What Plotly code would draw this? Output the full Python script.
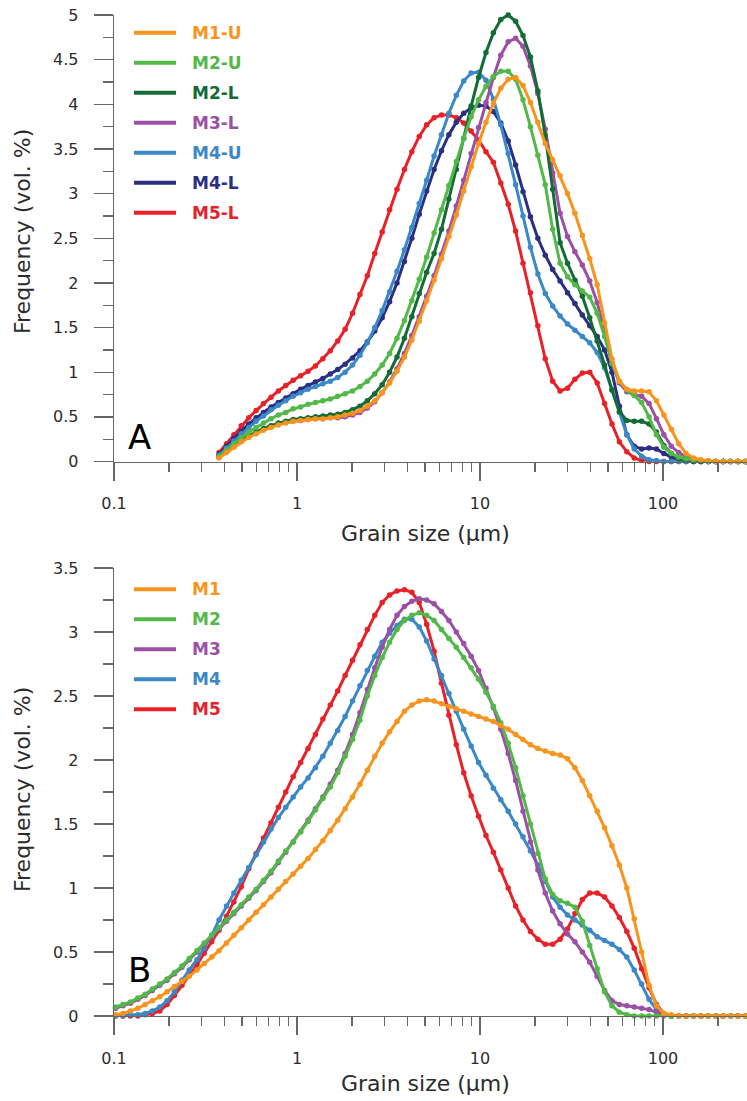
import plotly.graph_objects as go

# ---------------- data ----------------
# particle-size channels (µm)
CHANNELS = [0.102, 0.112, 0.123, 0.135, 0.148, 0.162, 0.178, 0.195, 0.214, 0.235,
            0.258, 0.284, 0.311, 0.342, 0.375, 0.412, 0.452, 0.496, 0.545, 0.598,
            0.656, 0.721, 0.791, 0.868, 0.953, 1.047, 1.149, 1.261, 1.385, 1.520,
            1.669, 1.832, 2.011, 2.208, 2.423, 2.660, 2.920, 3.206, 3.519, 3.863,
            4.241, 4.656, 5.111, 5.611, 6.159, 6.761, 7.422, 8.148, 8.944, 9.819,
            10.78, 11.83, 12.99, 14.26, 15.65, 17.18, 18.86, 20.71, 22.73, 24.95,
            27.39, 30.07, 33.01, 36.24, 39.78, 43.67, 47.94, 52.62, 57.77, 63.41,
            69.61, 76.42, 83.89, 92.09, 101.1, 111.0, 121.8, 133.7, 146.8, 161.2,
            176.9, 194.2, 213.2, 234.1, 256.9, 282.1, 309.6]
SIZES_B = CHANNELS
SIZES_A = CHANNELS[14:]

# Panel A (73 points each, from 0.375 µm)
M1_U = [0.04, 0.10, 0.16, 0.22, 0.27, 0.31, 0.35, 0.38, 0.41, 0.43,
        0.45, 0.46, 0.47, 0.48, 0.48, 0.49, 0.50, 0.52, 0.54, 0.57,
        0.62, 0.68, 0.77, 0.88, 1.01, 1.17, 1.36, 1.57, 1.80, 2.03,
        2.27, 2.52, 2.76, 3.03, 3.30, 3.56, 3.80, 4.01, 4.18, 4.28,
        4.30, 4.21, 4.02, 3.80, 3.56, 3.38, 3.20, 3.00, 2.78, 2.53,
        2.27, 1.98, 1.55, 1.15, 0.90, 0.81, 0.79, 0.79, 0.78, 0.68,
        0.52, 0.36, 0.20, 0.09, 0.04, 0.02, 0.01, 0, 0, 0,
        0, 0, 0]
M2_U = [0.06, 0.13, 0.20, 0.27, 0.33, 0.38, 0.43, 0.48, 0.52, 0.55,
        0.59, 0.61, 0.64, 0.66, 0.68, 0.70, 0.73, 0.76, 0.79, 0.84,
        0.90, 0.98, 1.08, 1.21, 1.38, 1.58, 1.80, 2.04, 2.29, 2.56,
        2.82, 3.09, 3.36, 3.62, 3.86, 4.05, 4.20, 4.31, 4.37, 4.37,
        4.28, 4.05, 3.75, 3.43, 3.10, 2.60, 2.22, 2.07, 1.98, 1.91,
        1.84, 1.66, 1.40, 1.10, 0.90, 0.80, 0.74, 0.66, 0.50, 0.30,
        0.16, 0.09, 0.05, 0.03, 0.02, 0.01, 0, 0, 0, 0,
        0, 0, 0]
M2_L = [0.05, 0.12, 0.18, 0.24, 0.29, 0.33, 0.37, 0.40, 0.43, 0.45,
        0.47, 0.48, 0.49, 0.50, 0.51, 0.52, 0.53, 0.55, 0.58, 0.62,
        0.68, 0.76, 0.86, 1.00, 1.17, 1.38, 1.62, 1.88, 2.12, 2.33,
        2.60, 2.94, 3.27, 3.62, 3.98, 4.30, 4.58, 4.80, 4.95, 5.00,
        4.93, 4.77, 4.53, 4.15, 3.65, 3.05, 2.45, 2.22, 2.03, 1.85,
        1.61, 1.35, 1.08, 0.80, 0.56, 0.46, 0.45, 0.45, 0.42, 0.33,
        0.18, 0.09, 0.03, 0.01, 0, 0, 0, 0, 0, 0,
        0, 0, 0]
M3_L = [0.05, 0.11, 0.17, 0.23, 0.28, 0.32, 0.36, 0.39, 0.42, 0.44,
        0.45, 0.46, 0.47, 0.48, 0.48, 0.49, 0.49, 0.50, 0.52, 0.55,
        0.60, 0.67, 0.77, 0.89, 1.04, 1.21, 1.41, 1.62, 1.85, 2.08,
        2.32, 2.58, 2.86, 3.15, 3.45, 3.74, 4.02, 4.30, 4.55, 4.70,
        4.74, 4.65, 4.43, 4.12, 3.72, 3.23, 2.78, 2.52, 2.35, 2.20,
        2.02, 1.78, 1.46, 1.10, 0.88, 0.78, 0.75, 0.73, 0.65, 0.48,
        0.30, 0.17, 0.10, 0.05, 0.02, 0.01, 0, 0, 0, 0,
        0, 0, 0]
M4_U = [0.07, 0.15, 0.23, 0.31, 0.38, 0.45, 0.51, 0.58, 0.63, 0.68,
        0.73, 0.77, 0.81, 0.84, 0.87, 0.90, 0.94, 1.00, 1.08, 1.19,
        1.33, 1.50, 1.69, 1.90, 2.13, 2.37, 2.62, 2.89, 3.15, 3.42,
        3.66, 3.90, 4.10, 4.26, 4.35, 4.36, 4.27, 4.06, 3.77, 3.45,
        3.10, 2.75, 2.40, 2.10, 1.88, 1.74, 1.63, 1.54, 1.47, 1.40,
        1.33, 1.22, 1.05, 0.80, 0.55, 0.30, 0.14, 0.06, 0.02, 0.01,
        0, 0, 0, 0, 0, 0, 0, 0, 0, 0,
        0, 0, 0]
M4_L = [0.08, 0.17, 0.26, 0.34, 0.42, 0.49, 0.55, 0.61, 0.66, 0.71,
        0.76, 0.81, 0.85, 0.89, 0.93, 0.98, 1.03, 1.09, 1.16, 1.24,
        1.34, 1.46, 1.61, 1.79, 2.00, 2.24, 2.50, 2.77, 3.03, 3.27,
        3.48, 3.66, 3.80, 3.90, 3.96, 3.99, 3.98, 3.92, 3.79, 3.59,
        3.32, 3.02, 2.74, 2.50, 2.31, 2.15, 2.02, 1.89, 1.77, 1.64,
        1.52, 1.40, 1.25, 1.00, 0.62, 0.30, 0.17, 0.14, 0.15, 0.14,
        0.09, 0.05, 0.02, 0, 0, 0, 0, 0, 0, 0,
        0, 0, 0]
M5_L = [0.10, 0.20, 0.30, 0.40, 0.49, 0.57, 0.65, 0.72, 0.79, 0.85,
        0.91, 0.96, 1.01, 1.07, 1.15, 1.24, 1.35, 1.48, 1.66, 1.87,
        2.08, 2.33, 2.57, 2.82, 3.05, 3.27, 3.47, 3.64, 3.77, 3.85,
        3.88, 3.88, 3.85, 3.79, 3.70, 3.60, 3.47, 3.35, 3.12, 2.88,
        2.58, 2.22, 1.89, 1.52, 1.15, 0.90, 0.79, 0.82, 0.92, 0.99,
        1.00, 0.88, 0.65, 0.42, 0.22, 0.11, 0.04, 0.01, 0, 0,
        0, 0, 0, 0, 0, 0, 0, 0, 0, 0,
        0, 0, 0]

# Panel B (87 points each, from 0.102 µm)
M1 = [0.01, 0.02, 0.04, 0.06, 0.09, 0.12, 0.15, 0.19, 0.23, 0.27,
      0.31, 0.36, 0.41, 0.46, 0.51, 0.57, 0.63, 0.69, 0.75, 0.81,
      0.87, 0.93, 0.99, 1.05, 1.11, 1.17, 1.23, 1.30, 1.37, 1.45,
      1.53, 1.62, 1.71, 1.81, 1.92, 2.03, 2.13, 2.22, 2.30, 2.38,
      2.43, 2.46, 2.47, 2.46, 2.44, 2.42, 2.40, 2.38, 2.36, 2.34,
      2.32, 2.30, 2.27, 2.24, 2.20, 2.16, 2.12, 2.09, 2.07, 2.05,
      2.04, 2.01, 1.94, 1.84, 1.72, 1.60, 1.47, 1.33, 1.18, 1.00,
      0.76, 0.50, 0.24, 0.08, 0.02, 0.01, 0, 0, 0, 0,
      0, 0, 0, 0, 0, 0, 0]
M2 = [0.07, 0.09, 0.11, 0.14, 0.17, 0.21, 0.25, 0.29, 0.34, 0.39,
      0.45, 0.51, 0.57, 0.63, 0.69, 0.75, 0.81, 0.87, 0.93, 0.99,
      1.06, 1.13, 1.21, 1.29, 1.36, 1.44, 1.52, 1.61, 1.70, 1.79,
      1.90, 2.03, 2.16, 2.31, 2.50, 2.66, 2.80, 2.92, 3.02, 3.09,
      3.13, 3.15, 3.13, 3.09, 3.02, 2.95, 2.88, 2.80, 2.72, 2.63,
      2.53, 2.42, 2.29, 2.13, 1.94, 1.72, 1.50, 1.27, 1.07, 0.95,
      0.90, 0.88, 0.85, 0.74, 0.55, 0.37, 0.19, 0.08, 0.03, 0.01,
      0, 0, 0, 0, 0, 0, 0, 0, 0, 0,
      0, 0, 0, 0, 0, 0, 0]
M3 = [0.06, 0.08, 0.10, 0.13, 0.16, 0.20, 0.24, 0.28, 0.33, 0.38,
      0.44, 0.50, 0.56, 0.62, 0.68, 0.74, 0.80, 0.86, 0.92, 0.98,
      1.05, 1.12, 1.20, 1.28, 1.36, 1.44, 1.53, 1.62, 1.71, 1.81,
      1.92, 2.05, 2.20, 2.37, 2.55, 2.72, 2.88, 3.02, 3.13, 3.20,
      3.24, 3.26, 3.25, 3.22, 3.16, 3.09, 3.00, 2.91, 2.81, 2.70,
      2.56, 2.41, 2.24, 2.05, 1.84, 1.60, 1.36, 1.14, 0.96, 0.82,
      0.72, 0.64, 0.58, 0.50, 0.42, 0.31, 0.20, 0.12, 0.09, 0.08,
      0.07, 0.06, 0.05, 0.03, 0.01, 0, 0, 0, 0, 0,
      0, 0, 0, 0, 0, 0, 0]
M4 = [0, 0, 0.01, 0.01, 0.02, 0.04, 0.07, 0.12, 0.19, 0.28,
      0.36, 0.44, 0.53, 0.63, 0.75, 0.86, 0.96, 1.06, 1.16, 1.26,
      1.36, 1.46, 1.55, 1.63, 1.71, 1.79, 1.86, 1.94, 2.03, 2.13,
      2.23, 2.34, 2.46, 2.58, 2.70, 2.81, 2.92, 2.99, 3.05, 3.10,
      3.10, 3.04, 2.93, 2.79, 2.66, 2.52, 2.38, 2.24, 2.11, 1.98,
      1.88, 1.78, 1.69, 1.60, 1.50, 1.40, 1.29, 1.18, 1.05, 0.93,
      0.85, 0.79, 0.75, 0.71, 0.67, 0.62, 0.59, 0.56, 0.52, 0.46,
      0.36, 0.25, 0.13, 0.05, 0.01, 0, 0, 0, 0, 0,
      0, 0, 0, 0, 0, 0, 0]
M5 = [0, 0, 0, 0, 0.01, 0.02, 0.04, 0.09, 0.16, 0.24,
      0.32, 0.40, 0.49, 0.58, 0.67, 0.78, 0.89, 1.01, 1.15, 1.27,
      1.39, 1.51, 1.63, 1.75, 1.87, 1.98, 2.09, 2.20, 2.32, 2.43,
      2.54, 2.66, 2.78, 2.90, 3.02, 3.13, 3.23, 3.29, 3.32, 3.33,
      3.31, 3.23, 3.06, 2.85, 2.60, 2.35, 2.12, 1.90, 1.72, 1.56,
      1.41, 1.28, 1.14, 1.00, 0.86, 0.75, 0.66, 0.60, 0.56, 0.56,
      0.60, 0.68, 0.80, 0.91, 0.96, 0.96, 0.93, 0.86, 0.77, 0.66,
      0.53, 0.37, 0.22, 0.09, 0.02, 0, 0, 0, 0, 0,
      0, 0, 0, 0, 0, 0, 0]

NAMES_A = ["M1-U", "M2-U", "M2-L", "M3-L", "M4-U", "M4-L", "M5-L"]
SERIES_A = [M1_U, M2_U, M2_L, M3_L, M4_U, M4_L, M5_L]
COLORS_A = ["#f7941d", "#52b848", "#136b35", "#9a50a4", "#3a88c8", "#2a2f82", "#e82129"]

NAMES_B = ["M1", "M2", "M3", "M4", "M5"]
SERIES_B = [M1, M2, M3, M4, M5]
COLORS_B = ["#f7941d", "#52b848", "#9a50a4", "#3a88c8", "#e82129"]

X_TICKS = [0.1, 1, 10, 100]
X_TICKTEXT = ["0.1", "1", "10", "100"]
X_MINOR = [0.2, 0.3, 0.4, 0.5, 0.6, 0.7, 0.8, 0.9, 2, 3, 4, 5, 6, 7, 8, 9,
           20, 30, 40, 50, 60, 70, 80, 90, 200, 300]

# ---------------- layout geometry ----------------
# the page body margin is removed (see post_script), so figure pixels = page pixels
W, H = 747, 1101
ML, MR, MT, MB = 114, 0, 15, 85
PW, PH = W - ML - MR, H - MT - MB
FONT = "DejaVu Sans"
AX = "#666666"
TXT = "#2b2b2b"


def px(x):
    """page pixel x -> paper fraction"""
    return (x - ML) / PW


def py(y):
    """page pixel y -> paper fraction"""
    return (H - MB - y) / PH


A_BOTTOM, B_TOP = 461.5, 568.0

fig = go.Figure()

for name, vals, col in reversed(list(zip(NAMES_A, SERIES_A, COLORS_A))):
    fig.add_trace(go.Scatter(x=SIZES_A, y=vals, name=name, mode="lines+markers",
                             line=dict(color=col, width=3),
                             marker=dict(color=col, size=5.5),
                             cliponaxis=False, showlegend=False,
                             xaxis="x", yaxis="y"))
for name, vals, col in reversed(list(zip(NAMES_B, SERIES_B, COLORS_B))):
    fig.add_trace(go.Scatter(x=SIZES_B, y=vals, name=name, mode="lines+markers",
                             line=dict(color=col, width=3),
                             marker=dict(color=col, size=5.5),
                             cliponaxis=False, showlegend=False,
                             xaxis="x2", yaxis="y2"))

xcommon = dict(type="log", range=[-1, 2.459], showline=True, linecolor=AX, linewidth=1.3,
               ticks="outside", ticklen=18, tickwidth=1.3, tickcolor=AX,
               tickmode="array", tickvals=X_TICKS, ticktext=X_TICKTEXT,
               tickfont=dict(family=FONT, size=16, color=TXT), ticklabelstandoff=9,
               ticklabeloverflow="allow",
               minor=dict(tickmode="array", tickvals=X_MINOR, ticks="outside", ticklen=9,
                          tickwidth=1.3, tickcolor=AX, showgrid=False),
               showgrid=False, zeroline=False, layer="above traces", automargin=False)
ycommon = dict(showline=True, linecolor=AX, linewidth=1.3, ticks="outside", ticklen=19,
               tickwidth=1.3, tickcolor=AX, tick0=0, dtick=0.5,
               tickfont=dict(family=FONT, size=16, color=TXT), ticklabelstandoff=12,
               ticklabeloverflow="allow",
               minor=dict(dtick=0.25, ticks="outside", ticklen=10, tickwidth=1.3,
                          tickcolor=AX, showgrid=False),
               showgrid=False, zeroline=False, layer="above traces", automargin=False)

fig.update_layout(
    width=W, height=H, margin=dict(l=ML, r=MR, t=MT, b=MB, autoexpand=False),
    paper_bgcolor="white", plot_bgcolor="white", showlegend=False,
    xaxis=dict(xcommon, anchor="y", domain=[0, 1]),
    yaxis=dict(ycommon, anchor="x", domain=[py(A_BOTTOM), 1], range=[0, 5]),
    xaxis2=dict(xcommon, anchor="y2", domain=[0, 1]),
    yaxis2=dict(ycommon, anchor="x2", domain=[0, py(B_TOP)], range=[0, 3.5]),
)

annotations = []
shapes = []


def legend(names, colors, y0):
    for i, (n, c) in enumerate(zip(names, colors)):
        yy = py(y0 + 30 * i)
        shapes.append(dict(type="line", xref="paper", yref="paper", x0=px(134), x1=px(176),
                           y0=yy, y1=yy, line=dict(color=c, width=4)))
        annotations.append(dict(xref="paper", yref="paper", x=px(190), y=yy, text="<b>%s</b>" % n,
                                showarrow=False, xanchor="left", yanchor="middle",
                                font=dict(family=FONT, size=17, color=c)))


legend(NAMES_A, COLORS_A, 32.7)
legend(NAMES_B, COLORS_B, 589.3)

for lab, (xx, yy) in zip(["A", "B"], [(139, 437), (139, 970)]):
    annotations.append(dict(xref="paper", yref="paper", x=px(xx), y=py(yy), text=lab,
                            showarrow=False, xanchor="center", yanchor="middle",
                            font=dict(family=FONT, size=34, color="black")))

for ty, yc in [(533, 232), (1083, 790)]:
    annotations.append(dict(xref="paper", yref="paper", x=px(425), y=py(ty), text="Grain size (μm)",
                            showarrow=False, xanchor="center", yanchor="middle",
                            font=dict(family=FONT, size=22, color=TXT)))
    annotations.append(dict(xref="paper", yref="paper", x=px(22), y=py(yc), text="Frequency (vol. %)",
                            showarrow=False, xanchor="center", yanchor="middle", textangle=-90,
                            font=dict(family=FONT, size=22, color=TXT)))

fig.update_layout(annotations=annotations, shapes=shapes)
fig.write_html("out.html", config={"displayModeBar": False, "staticPlot": True},
               post_script="document.body.style.margin='0px';")
